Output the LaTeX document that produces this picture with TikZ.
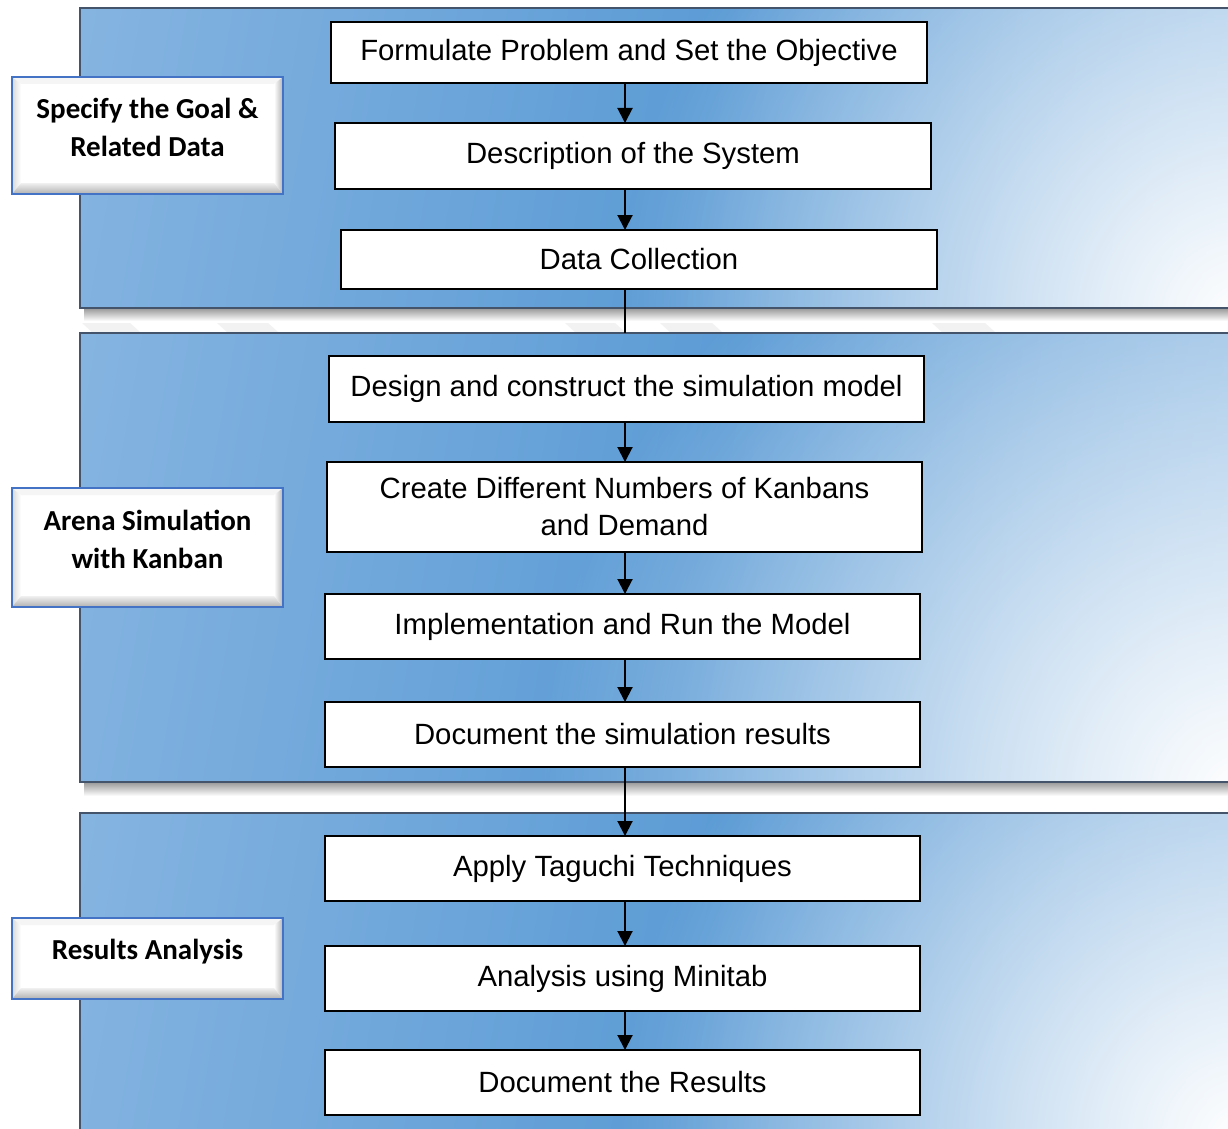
\documentclass[tikz,border=0pt]{standalone}
\usepackage{fontspec}
\setmainfont{Liberation Sans}
\newfontfamily\calib{Carlito}
\usetikzlibrary{arrows.meta,fadings,calc}

\definecolor{pA}{HTML}{A2C5E8}
\definecolor{pB}{HTML}{5B9BD5}
\definecolor{pC}{HTML}{ACCCEB}
\definecolor{pborder}{HTML}{44546A}
\definecolor{lblue}{HTML}{4472C4}
\pgfdeclarehorizontalshading{panelsh}{100bp}{color(0bp)=(pA); color(52bp)=(pB); color(100bp)=(pC)}
\tikzfading[name=cornerfade, inner color=transparent!0, outer color=transparent!100]

\begin{document}
\begin{tikzpicture}[x=1pt,y=-1pt,
  flowbox/.style={draw=black, line width=2.4pt, fill=white, inner sep=0pt, outer sep=0pt,
    minimum width=596pt, align=center, font=\fontsize{29.3}{37}\selectfont},
  lbl/.style={draw=lblue, line width=1.8pt, fill=white, inner sep=0pt, outer sep=0pt,
    minimum width=271pt, align=center, font=\calib\bfseries\fontsize{29}{38}\selectfont,
    path picture={
      \path (path picture bounding box.north west) coordinate (pnw)
            (path picture bounding box.north east) coordinate (pne)
            (path picture bounding box.south west) coordinate (psw)
            (path picture bounding box.south east) coordinate (pse);
      \fill[gray!8] (pnw) -- (pne) -- ([shift={(-9pt,-7pt)}]pne) -- ([shift={(9pt,-7pt)}]pnw) -- cycle;
      \shade[left color=gray!30, right color=white] (pnw) -- ([shift={(9pt,-7pt)}]pnw) -- ([shift={(9pt,11pt)}]psw) -- (psw) -- cycle;
      \shade[left color=white, right color=gray!60] (pne) -- (pse) -- ([shift={(-9pt,11pt)}]pse) -- ([shift={(-9pt,-7pt)}]pne) -- cycle;
      \shade[top color=gray!12, bottom color=gray!62] (psw) -- ([shift={(9pt,11pt)}]psw) -- ([shift={(-9pt,11pt)}]pse) -- (pse) -- cycle;
    }},
  arr/.style={draw=black, line width=2pt, -{Triangle[width=15pt,length=15pt]}},
  conn/.style={draw=black, line width=2pt},
  pline/.style={draw=pborder, line width=2.5pt},
  streak/.style={fill=gray!10}
]
\useasboundingbox (0,0) rectangle (1228,1129);
\clip (0,0) rectangle (1228,1129);
\fill[white] (0,0) rectangle (1228,1129);

% ---------- panel 1
\shade[top color=gray!75, bottom color=white] (84,309) rectangle (1240,321);
\foreach \a/\b in {82/130,217/268,565/615,660/712,932/985}{
  \fill[streak] (\a,323) -- (\b,323) -- (\b+10,332) -- (\a+10,332) -- cycle;}
\begin{scope}
  \clip (80,8) rectangle (1240,308);
  \shade[shading=panelsh, shading angle=-10] (80,8) rectangle (1240,308);
  \fill[white, path fading=cornerfade] (1240,320) circle (620pt);
\end{scope}
\draw[pline] (1240,8) -- (80,8) -- (80,308) -- (1240,308);

% ---------- panel 2
\shade[top color=gray!75, bottom color=white] (84,783) rectangle (1240,796);
\begin{scope}
  \clip (80,333) rectangle (1240,782);
  \shade[shading=panelsh, shading angle=-10] (80,333) rectangle (1240,782);
  \fill[white, path fading=cornerfade] (1240,795) circle (700pt);
\end{scope}
\draw[pline] (1240,333) -- (80,333) -- (80,782) -- (1240,782);

% ---------- panel 3
\begin{scope}
  \clip (80,813) rectangle (1240,1140);
  \shade[shading=panelsh, shading angle=-10] (80,813) rectangle (1240,1140);
  \fill[white, path fading=cornerfade] (1240,1140) circle (620pt);
\end{scope}
\draw[pline] (1240,813) -- (80,813) -- (80,1140);

% ---------- label boxes
\node[lbl, minimum height=117pt] (l1) at (147.5,135.5) {Specify the Goal \&\\Related Data\rule[-16pt]{0pt}{0pt}};
\node[lbl, minimum height=119pt] (l2) at (147.5,547.5) {Arena Simulation\\with Kanban\rule[-16pt]{0pt}{0pt}};
\node[lbl, minimum height=81pt] (l3) at (147.5,958.5) {Results Analysis\rule[-18pt]{0pt}{0pt}};

% ---------- flow boxes
\node[flowbox, minimum height=61pt] (f1) at (629,52.5) {Formulate Problem and Set the Objective};
\node[flowbox, minimum height=66pt] (f2) at (633,156) {Description of the System};
\node[flowbox, minimum height=59pt] (f3) at (639,259.5) {Data Collection};
\node[flowbox, minimum height=66pt, minimum width=595pt] (f4) at (626.5,389) {Design and construct the simulation model};
\node[flowbox, minimum height=90pt, minimum width=595pt] (f5) at (624.5,507) {Create Different Numbers of Kanbans\\and Demand};
\node[flowbox, minimum height=65pt, minimum width=595pt] (f6) at (622.5,626.5) {Implementation and Run the Model};
\node[flowbox, minimum height=65pt, minimum width=595pt] (f7) at (622.5,734.5) {Document the simulation results};
\node[flowbox, minimum height=65pt, minimum width=595pt] (f8) at (622.5,868.5) {Apply Taguchi Techniques};
\node[flowbox, minimum height=65pt, minimum width=595pt] (f9) at (622.5,978.5) {Analysis using Minitab};
\node[flowbox, minimum height=65pt, minimum width=595pt] (f10) at (622.5,1082.5) {Document the Results};

% ---------- connectors
\coordinate (ax) at (625,0);
\coordinate (p2top) at (625,333);
\draw[arr] (f1.south -| ax) -- (f2.north -| ax);
\draw[arr] (f2.south -| ax) -- (f3.north -| ax);
\draw[conn] (f3.south -| ax) -- (p2top);
\draw[arr] (f4.south -| ax) -- (f5.north -| ax);
\draw[arr] (f5.south -| ax) -- (f6.north -| ax);
\draw[arr] (f6.south -| ax) -- (f7.north -| ax);
\draw[arr] (f7.south -| ax) -- (f8.north -| ax);
\draw[arr] (f8.south -| ax) -- (f9.north -| ax);
\draw[arr] (f9.south -| ax) -- (f10.north -| ax);
\end{tikzpicture}
\end{document}
